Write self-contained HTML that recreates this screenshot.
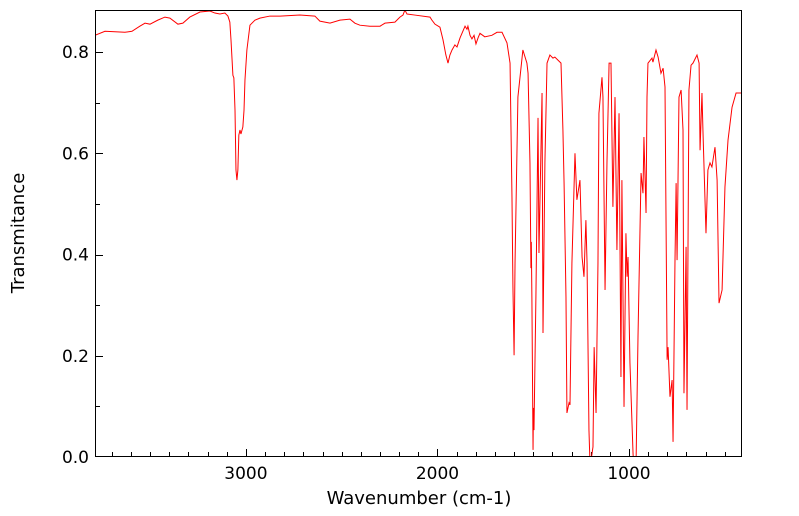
<!DOCTYPE html>
<html><head><meta charset="utf-8"><style>
html,body{margin:0;padding:0;background:#fff}
svg{display:block;font-family:"DejaVu Sans","Liberation Sans",sans-serif}
</style></head><body>
<svg id="chart" width="799" height="516" viewBox="0 0 799 516" xmlns="http://www.w3.org/2000/svg">
<defs><clipPath id="clip"><rect x="95" y="10" width="647" height="447"/></clipPath></defs>
<g id="ticks"></g>
<path id="line" fill="none" stroke="#ff0000" stroke-width="1" clip-path="url(#clip)"/>
<rect x="95.5" y="10.5" width="646" height="446" fill="none" stroke="#000" stroke-width="1"/>
<text x="419" y="504" font-size="18" text-anchor="middle">Wavenumber (cm-1)</text>
<text x="24" y="233" font-size="18" text-anchor="middle" transform="rotate(-90 24 233)">Transmitance</text>
</svg>
<script>
const wavenumbers=[3788,3736,3632,3595,3554,3527,3501,3460,3423,3397,3355,3329,3293,3240,3188,3162,3136,3110,3094,3084,3078,3068,3063,3057,3052,3047,3042,3037,3031,3026,3016,3010,3005,2995,2979,2953,2927,2875,2822,2718,2640,2614,2561,2509,2457,2431,2405,2353,2300,2274,2222,2196,2180,2170,2159,2118,2039,2029,2013,1987,1971,1956,1945,1935,1924,1909,1898,1882,1872,1856,1846,1841,1830,1820,1809,1799,1788,1778,1753,1716,1689,1663,1637,1621,1611,1606,1600,1595,1580,1554,1533,1527,1517,1512,1510,1507,1501,1499,1496,1486,1475,1470,1454,1449,1439,1428,1413,1397,1387,1371,1355,1345,1339,1329,1324,1313,1308,1298,1282,1272,1256,1245,1235,1225,1219,1209,1203,1188,1182,1172,1162,1157,1141,1136,1125,1115,1104,1094,1084,1073,1063,1052,1042,1037,1026,1016,1010,1005,995,979,974,963,953,937,927,922,911,906,901,880,875,859,848,833,822,812,801,796,786,775,770,760,754,749,739,728,718,713,702,697,687,676,666,645,634,629,619,614,598,588,577,567,551,540,530,514,499,483,462,441,410];
const transmittance=[0.833,0.841,0.839,0.841,0.851,0.857,0.855,0.863,0.869,0.867,0.855,0.857,0.869,0.879,0.881,0.877,0.875,0.877,0.871,0.859,0.824,0.754,0.749,0.685,0.567,0.547,0.567,0.636,0.646,0.638,0.652,0.685,0.745,0.804,0.853,0.863,0.867,0.871,0.871,0.873,0.871,0.861,0.857,0.863,0.865,0.857,0.853,0.851,0.851,0.857,0.859,0.869,0.873,0.883,0.875,0.873,0.869,0.863,0.855,0.849,0.824,0.794,0.778,0.794,0.804,0.814,0.810,0.828,0.837,0.851,0.845,0.851,0.833,0.826,0.833,0.816,0.828,0.837,0.830,0.833,0.839,0.839,0.818,0.778,0.514,0.336,0.201,0.383,0.711,0.804,0.778,0.758,0.581,0.373,0.425,0.316,0.014,0.097,0.053,0.316,0.670,0.403,0.719,0.245,0.581,0.778,0.794,0.788,0.790,0.784,0.778,0.646,0.541,0.316,0.087,0.107,0.103,0.383,0.600,0.508,0.547,0.395,0.356,0.468,0.383,0.053,-0.02,0.020,0.217,0.087,0.383,0.679,0.750,0.711,0.330,0.581,0.778,0.778,0.494,0.711,0.409,0.679,0.158,0.547,0.099,0.442,0.356,0.395,0.186,0.008,-0.03,-0.01,0.237,0.561,0.521,0.632,0.482,0.711,0.778,0.788,0.780,0.804,0.790,0.758,0.768,0.731,0.192,0.217,0.119,0.152,0.030,0.383,0.541,0.389,0.711,0.725,0.646,0.126,0.415,0.093,0.725,0.774,0.778,0.794,0.778,0.606,0.719,0.646,0.442,0.567,0.581,0.573,0.612,0.547,0.304,0.330,0.533,0.626,0.691,0.719,0.719];
const xMajor=[3000,2000,1000];
const xMajorLabels=["3000","2000","1000"];
const yMajor=[0,0.2,0.4,0.6,0.8];
const yMajorLabels=["0.0","0.2","0.4","0.6","0.8"];

const X0=95,X1=742,Y0=457,Y1=10,WMAX=3788,WMIN=410,TMAX=0.883;
function sx(w){return X0+(WMAX-w)/(WMAX-WMIN)*(X1-X0);}
function sy(t){return Y0-t/TMAX*(Y0-Y1);}
const NS='http://www.w3.org/2000/svg';
let d='';
for(let i=0;i<wavenumbers.length;i++){d+=(i?'L':'M')+sx(wavenumbers[i]).toFixed(2)+','+sy(transmittance[i]).toFixed(2);}
document.getElementById('line').setAttribute('d',d);
const g=document.getElementById('ticks');
const svg=document.getElementById('chart');
function ln(x1,y1,x2,y2,name){const l=document.createElementNS(NS,'line');l.setAttribute('x1',x1);l.setAttribute('y1',y1);l.setAttribute('x2',x2);l.setAttribute('y2',y2);l.setAttribute('stroke','#000');l.setAttribute('stroke-width','1');


g.appendChild(l);}
function tx(x,y,s,anchor,name){const t=document.createElementNS(NS,'text');t.setAttribute('x',x);t.setAttribute('y',y);t.setAttribute('font-size','17');t.setAttribute('text-anchor',anchor);t.textContent=s;


svg.appendChild(t);}
for(let w=3700;w>=500;w-=100){const x=Math.round(sx(w))+0.5;const major=xMajor.indexOf(w)>=0;ln(x,Y0,x,Y0-(major?8:5),'x-tick');}
xMajor.forEach((w,i)=>tx(sx(w),479,xMajorLabels[i],'middle','x-tick-label'));
for(let k=1;k<=8;k++){const y=Math.round(sy(k/10))+0.5;ln(X0,y,X0+(k%2==0?8:5),y,'y-tick');}
yMajor.forEach((v,i)=>tx(89,sy(v)+6,yMajorLabels[i],'end','y-tick-label'));
</script>
</body></html>
